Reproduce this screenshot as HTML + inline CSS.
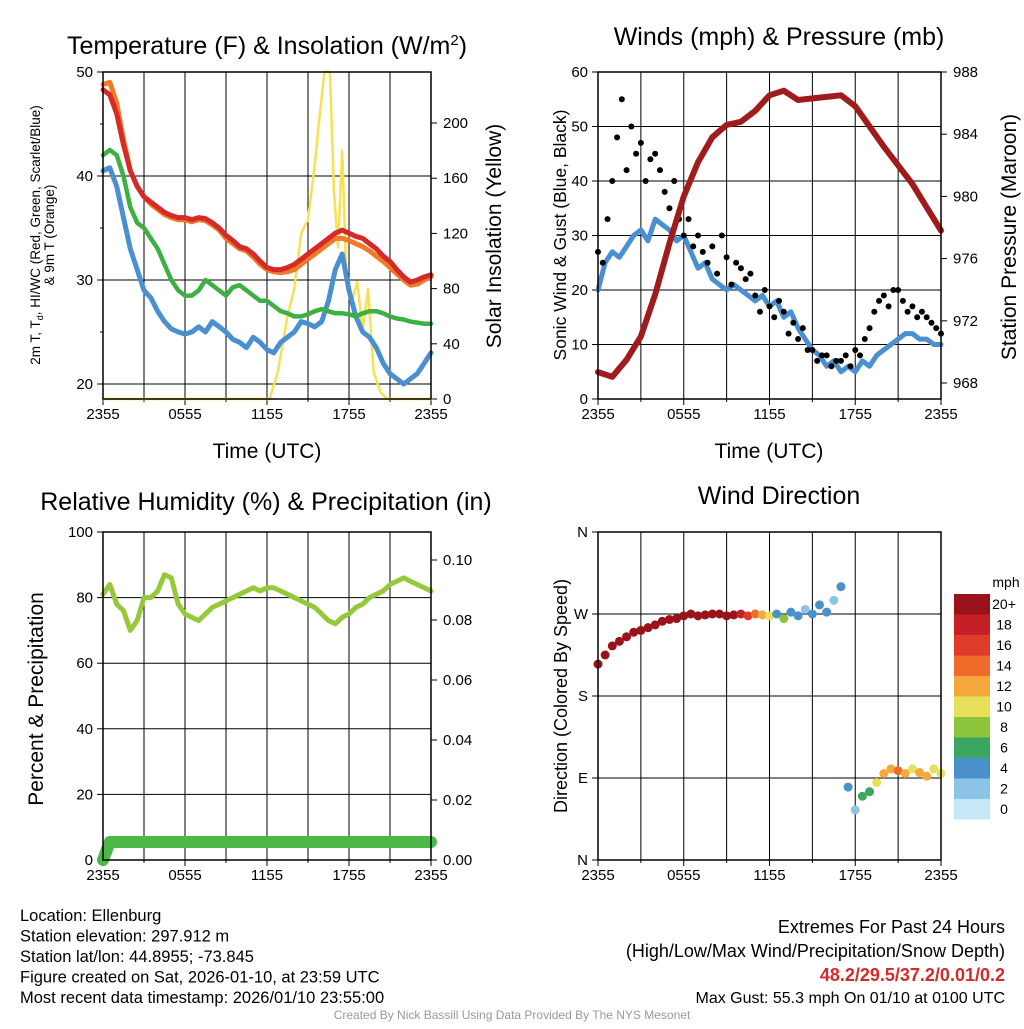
<!DOCTYPE html>
<html><head><meta charset="utf-8"><style>
body{margin:0;background:#fff;width:1024px;height:1024px;overflow:hidden;font-family:"Liberation Sans",sans-serif}
svg text{font-family:"Liberation Sans",sans-serif}
</style></head><body>
<svg id="s" width="1024" height="1024" xmlns="http://www.w3.org/2000/svg"></svg>
<script>
// ---- data ----
const timeTicks = ["2355","0555","1155","1755","2355"];
const tempRed = [48.3,47.8,46,43,40.5,39,38,37.5,37,36.5,36.2,36,36,35.8,36,35.9,35.5,35,34.3,33.8,33.2,33,32.5,31.8,31.2,31,31,31.2,31.5,32,32.5,33,33.5,34,34.5,34.8,34.5,34.2,34,33.5,33,32.3,31.8,31,30.3,29.8,30,30.3,30.5];
const tempOrange = [48.8,49,47,43.5,40.5,39,38,37.3,36.8,36.3,36,35.8,35.8,35.6,35.8,35.7,35.3,34.8,34,33.5,33,32.8,32.2,31.5,31,30.8,30.7,30.8,31,31.5,32,32.5,33,33.5,34,34,33.8,33.5,33.2,32.8,32.3,31.8,31.2,30.6,30,29.5,29.6,30,30.3];
const dewGreen = [42,42.5,42,40,37,35.5,35,34,33,31.5,30,29,28.5,28.5,29,30,29.5,29,28.5,29.3,29.5,29,28.5,28,28,27.5,27,26.8,26.5,26.5,26.7,27,27.2,27,26.8,26.8,26.7,26.5,26.8,27,27,26.8,26.5,26.3,26.2,26,25.9,25.8,25.8];
const chillBlue = [40.5,40.8,39,36,33,31,29,28.3,27,26,25.3,25,24.8,25,25.5,25,26,25.5,25,24.3,24,23.5,24.5,24,23.3,23,24,24.5,25,26,25.8,25.5,26,28,31,32.5,29,26.5,25,24.5,23.5,22,21,20.5,20,20.5,21,22,23];
const solarHours = [0,12.2,12.8,13.5,14.0,14.5,15.0,15.5,15.8,16.2,16.6,16.9,17.2,17.5,17.8,18.2,18.6,19.0,19.4,19.8,20.3,20.8,24];
const solarVals = [0,0,20,60,80,120,130,170,200,237,237,150,110,180,90,70,85,50,80,20,5,0,0];
const pressure = [968.7,968.4,969.5,971,973.7,977,980,982.2,983.8,984.6,984.8,985.5,986.5,986.8,986.2,986.3,986.4,986.5,985.8,984.5,983.2,982,980.8,979.3,977.8];
const windSpeed = [20,25,27,26,28,30,31,29,33,32,31,29,30,27,24,25,22,21,20,21,20,19,18,19,17,18,15,16,13,11,9,8,6,7,5,6,5,7,6,8,9,10,11,12,12,11,11,10,10];
const windGust = [27,25,33,40,48,55,42,50,45,47,40,44,45,42,38,35,40,33,30,33,28,30,27,25,28,23,30,26,21,25,24,22,23,19,16,20,17,15,18,16,12,14,11,13,9,9,7,8,8,6,7,7,8,6,9,8,11,13,16,18,19,17,20,20,18,16,17,15,16,15,14,13,12];
const rhVals = [81,84,78,76,70,73,80,80,82,87,86,78,75,74,73,75,77,78,79,80,81,82,83,82,83,83,82,81,80,79,78,77,75,73,72,74,75,77,78,80,81,82,84,85,86,85,84,83,82];
const precipVals = [0,0.006,0.006,0.006,0.006,0.006,0.006,0.006,0.006,0.006,0.006,0.006,0.006,0.006,0.006,0.006,0.006,0.006,0.006,0.006,0.006,0.006,0.006,0.006,0.006,0.006,0.006,0.006,0.006,0.006,0.006,0.006,0.006,0.006,0.006,0.006,0.006,0.006,0.006,0.006,0.006,0.006,0.006,0.006,0.006,0.006,0.006,0.006,0.006];
const dirVals = [215,225,235,240,245,250,252,255,258,262,264,265,268,270,268,269,270,270,268,269,270,268,270,269,268,270,265,272,268,275,270,280,272,285,300,80,55,70,75,85,95,100,98,95,100,96,92,100,95];
const dirSpeed = [22,22,21,22,23,24,25,25,26,24,22,23,22,21,22,21,21,20,21,20,18,16,14,12,10,5,9,4,5,3,4,5,4,3,4,4,3,6,7,10,12,13,14,12,11,13,12,11,10];
const cbLabels = ["20+","18","16","14","12","10","8","6","4","2","0"];
const cbColors = ["#98141a","#c42026","#e03a2a","#f06a2a","#f5a83c","#e8e05a","#8cc43c","#3aa661","#4a90c9","#8cc4e8","#c6e9fa"];

const S=document.getElementById('s');const NS="http://www.w3.org/2000/svg";
function el(t,a,p){const e=document.createElementNS(NS,t);for(const k in a)e.setAttribute(k,a[k]);(p||S).appendChild(e);return e;}
function txt(x,y,s,size,anchor,extra){const e=el('text',Object.assign({x:x,y:y,'font-size':size,'text-anchor':anchor||'middle',fill:'#000'},extra||{}));e.textContent=s;return e;}
function lin(d0,d1,r0,r1){return v=>r0+(v-d0)/(d1-d0)*(r1-r0);}
function path(xs,ys,fn,attrs,g){let d='';xs.forEach((x,i)=>{d+=(i?'L':'M')+x.toFixed(1)+','+fn(ys[i]).toFixed(1);});return el('path',Object.assign({d:d,fill:'none','stroke-linejoin':'round','stroke-linecap':'round'},attrs),g);}
function hrs(n,span){return Array.from({length:n},(_,i)=>i*span/(n-1));}

function frame(x0,y0,x1,y1,name){
  const g=el('g',{});
  const xs=lin(0,24,x0,x1);
  for(let h=3;h<24;h+=3)el('line',{x1:xs(h),x2:xs(h),y1:y0,y2:y1,stroke:'#000','stroke-width':1},g);
  for(let i=0;i<5;i++){const x=xs(i*6);el('line',{x1:x,x2:x,y1:y1,y2:y1+6,stroke:'#000'},g);txt(x,y1+20,timeTicks[i],15);}
  for(let h=3;h<24;h+=6)el('line',{x1:xs(h),x2:xs(h),y1:y1,y2:y1+3,stroke:'#000'},g);
  return {g,xs};
}
function box(x0,y0,x1,y1){el('rect',{x:x0,y:y0,width:x1-x0,height:y1-y0,fill:'none',stroke:'#000','stroke-width':1.5});}

// ---- Panel 1 ----
(function(){
  const x0=103,x1=431,y0=72,y1=399;
  const F=frame(x0,y0,x1,y1,'temperature-panel');const g=F.g,xs=F.xs;
  const yT=lin(20,50,384,72), yS=lin(0,200,399,123);
  [20,30,40].forEach(v=>el('line',{x1:x0,x2:x1,y1:yT(v),y2:yT(v),stroke:'#000'},g));
  [20,30,40,50].forEach(v=>{el('line',{x1:x0-6,x2:x0,y1:yT(v),y2:yT(v),stroke:'#000'});txt(x0-10,yT(v)+5,v,15,'end');});
  [25,35,45].forEach(v=>el('line',{x1:x0-3,x2:x0,y1:yT(v),y2:yT(v),stroke:'#000'}));
  [0,40,80,120,160,200].forEach(v=>{el('line',{x1:x1,x2:x1+6,y1:yS(v),y2:yS(v),stroke:'#000'});txt(x1+12,yS(v)+5,v,15,'start');});
  const H=hrs(49,24);
  const sol=path(solarHours.map(xs),solarVals,yS,{stroke:'#f7e152','stroke-width':2.5});
  const b=path(H.map(xs),chillBlue,yT,{stroke:'#4a8fd0','stroke-width':5});
  const gr=path(H.map(xs),dewGreen,yT,{stroke:'#3cb043','stroke-width':4.5});
  const o=path(H.map(xs),tempOrange,yT,{stroke:'#f07a28','stroke-width':5});
  const r=path(H.map(xs),tempRed,yT,{stroke:'#d42a2a','stroke-width':5});
  box(x0,y0,x1,y1);
  const t=txt(267,54,'Temperature (F) & Insolation (W/m',25);
  const sp=el('tspan',{dy:-9,'font-size':15},t);sp.textContent='2';const sp2=el('tspan',{dy:9},t);sp2.textContent=')';
  txt(267,458,'Time (UTC)',21);
  const yl=el('g',{transform:'translate(40,235) rotate(-90)'});
  const t1=el('text',{x:0,y:0,'font-size':13.5,'text-anchor':'middle'},yl);t1.textContent='2m T, T';const sb=el('tspan',{dy:3,'font-size':9},t1);sb.textContent='d';const sb2=el('tspan',{dy:-3},t1);sb2.textContent=', HI/WC (Red, Green, Scarlet/Blue)';
  const t2=el('text',{x:0,y:14,'font-size':13.5,'text-anchor':'middle'},yl);t2.textContent='& 9m T (Orange)';
  const yr=el('text',{transform:'translate(501,236) rotate(-90)','font-size':21,'text-anchor':'middle'});yr.textContent='Solar Insolation (Yellow)';
})();

// ---- Panel 2 ----
(function(){
  const x0=598,x1=941,y0=72,y1=399;
  const F=frame(x0,y0,x1,y1,'winds-panel');const g=F.g,xs=F.xs;
  const yW=lin(0,60,399,72), yP=lin(968,988,383,72);
  [10,20,30,40,50].forEach(v=>el('line',{x1:x0,x2:x1,y1:yW(v),y2:yW(v),stroke:'#000'},g));
  [0,10,20,30,40,50,60].forEach(v=>{el('line',{x1:x0-6,x2:x0,y1:yW(v),y2:yW(v),stroke:'#000'});txt(x0-10,yW(v)+5,v,15,'end');});
  [968,972,976,980,984,988].forEach(v=>{el('line',{x1:x1,x2:x1+6,y1:yP(v),y2:yP(v),stroke:'#000'});txt(x1+12,yP(v)+5,v,15,'start');});
  const w=path(hrs(49,24).map(xs),windSpeed,yW,{stroke:'#4a8fd0','stroke-width':5});
  const GH=hrs(windGust.length,24);
  windGust.forEach((v,i)=>{const c=el('circle',{cx:xs(GH[i]),cy:yW(v),r:3,fill:'#000'});});
  const p=path(hrs(25,24).map(xs),pressure,yP,{stroke:'#a01c1c','stroke-width':6});
  box(x0,y0,x1,y1);
  const t=txt(779,45,'Winds (mph) & Pressure (mb)',25);
  txt(769,458,'Time (UTC)',21);
  const a=el('text',{transform:'translate(566,235) rotate(-90)','font-size':17.5,'text-anchor':'middle'});a.textContent='Sonic Wind & Gust (Blue, Black)';
  const b=el('text',{transform:'translate(1016,237) rotate(-90)','font-size':21,'text-anchor':'middle'});b.textContent='Station Pressure (Maroon)';
})();

// ---- Panel 3 ----
(function(){
  const x0=103,x1=431,y0=532,y1=860;
  const F=frame(x0,y0,x1,y1,'humidity-panel');const g=F.g,xs=F.xs;
  const yR=lin(0,100,860,532), yQ=lin(0,0.1,860,560);
  [20,40,60,80].forEach(v=>el('line',{x1:x0,x2:x1,y1:yR(v),y2:yR(v),stroke:'#000'},g));
  [0,20,40,60,80,100].forEach(v=>{el('line',{x1:x0-6,x2:x0,y1:yR(v),y2:yR(v),stroke:'#000'});txt(x0-10,yR(v)+5,v,15,'end');});
  [0,0.02,0.04,0.06,0.08,0.10].forEach(v=>{el('line',{x1:x1,x2:x1+6,y1:yQ(v),y2:yQ(v),stroke:'#000'});txt(x1+12,yQ(v)+5,v.toFixed(2),15,'start');});
  const H=hrs(49,24);
  const r=path(H.map(xs),rhVals,yR,{stroke:'#96c83c','stroke-width':5});
  const p=path(H.map(xs),precipVals,yQ,{stroke:'#4cb848','stroke-width':12});
  box(x0,y0,x1,y1);
  const t=txt(266,510,'Relative Humidity (%) & Precipitation (in)',25);
  const a=el('text',{transform:'translate(43,699) rotate(-90)','font-size':21,'text-anchor':'middle'});a.textContent='Percent & Precipitation';
})();

// ---- Panel 4 ----
(function(){
  const x0=598,x1=941,y0=532,y1=860;
  const F=frame(x0,y0,x1,y1,'wind-direction-panel');const g=F.g,xs=F.xs;
  const yD=lin(0,360,860,532);
  const dl=['N','E','S','W','N'];
  [90,180,270].forEach(v=>el('line',{x1:x0,x2:x1,y1:yD(v),y2:yD(v),stroke:'#000'},g));
  [0,90,180,270,360].forEach((v,i)=>{el('line',{x1:x0-6,x2:x0,y1:yD(v),y2:yD(v),stroke:'#000'});txt(x0-10,yD(v)+5,dl[i],15,'end');});
  const H=hrs(49,24);
  function col(s){const idx=Math.min(10,Math.floor(s/2));return cbColors[10-idx];}
  dirVals.forEach((v,i)=>{const c=el('circle',{cx:xs(H[i]),cy:yD(v),r:4.5,fill:col(dirSpeed[i])});});
  box(x0,y0,x1,y1);
  const t=txt(779,504,'Wind Direction',25);
  const a=el('text',{transform:'translate(567,696) rotate(-90)','font-size':18,'text-anchor':'middle'});a.textContent='Direction (Colored By Speed)';
  const cb=el('g',{});
  txt(1006,587,'mph',14,'middle');
  cbColors.forEach((c,i)=>{el('rect',{x:954,y:594+i*20.5,width:36,height:20.5,fill:c},cb);txt(1004,609+i*20.5,cbLabels[i],14,'middle');});
})();

// ---- footer ----
const L=["Location: Ellenburg","Station elevation: 297.912 m","Station lat/lon: 44.8955; -73.845","Figure created on Sat, 2026-01-10, at 23:59 UTC","Most recent data timestamp: 2026/01/10 23:55:00"];
L.forEach((s,i)=>{const t=txt(20,921+i*20.5,s,16.5,'start');});
txt(1005,933,'Extremes For Past 24 Hours',18,'end');
txt(1005,957,'(High/Low/Max Wind/Precipitation/Snow Depth)',18,'end');
const ex=txt(1005,981,'48.2/29.5/37.2/0.01/0.2',18,'end',{fill:'#d42a2a','font-weight':'bold'});
txt(1005,1003,'Max Gust: 55.3 mph On 01/10 at 0100 UTC',16,'end');
txt(512,1019,'Created By Nick Bassill Using Data Provided By The NYS Mesonet',12,'middle',{fill:'#999'});
</script>
</body></html>
